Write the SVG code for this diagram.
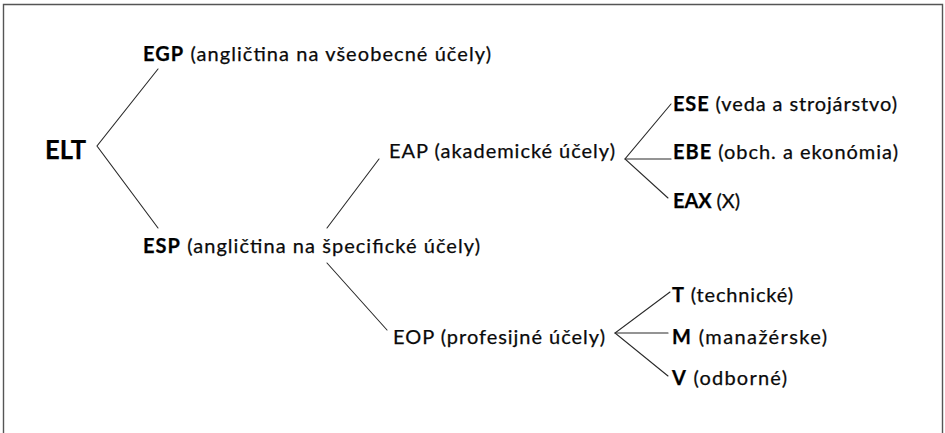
<svg xmlns="http://www.w3.org/2000/svg" width="945" height="433" viewBox="0 0 945 433">
  <style>
    text { font-family: Lato, "Open Sans", "Liberation Sans", sans-serif; font-size: 20px; fill: #0a0a0a; stroke: #0a0a0a; stroke-width: 0.25; }
    .b { font-weight: bold; fill: #000; }
    .root { font-size: 27px; font-weight: bold; fill: #000; }
    .edge { stroke: #2a2a2a; stroke-width: 1.1; fill: none; stroke-linecap: round; }
  </style>
  <rect width="945" height="433" fill="#fff"/>
  <!-- frame: top, left and right sides only -->
  <path d="M3.5 440 V4.5 H942.5 V440" fill="none" stroke="#555" stroke-width="1.4"/>

  <g id="connectors">
    <polyline class="edge" points="158,69 97,146 158,228"/>
    <polyline class="edge" points="379,159 327,228"/>
    <polyline class="edge" points="327,263 387,330"/>
    <polyline class="edge" points="671,104 625,159 668,198"/>
    <line class="edge" x1="625" y1="159" x2="671" y2="159"/>
    <polyline class="edge" points="670,292 615,333 668,376"/>
    <line class="edge" x1="615" y1="333" x2="668" y2="333"/>
  </g>

  <g id="elt"><text class="root" x="45" y="159" textLength="41" lengthAdjust="spacingAndGlyphs">ELT</text></g>
  <g id="egp"><text x="143" y="61" textLength="348"><tspan class="b">EGP</tspan> (angličtina na všeobecné účely)</text></g>
  <g id="esp"><text x="143" y="253" textLength="337"><tspan class="b">ESP</tspan> (angličtina na špecifické účely)</text></g>
  <g id="eap"><text x="389" y="158" textLength="226">EAP (akademické účely)</text></g>
  <g id="eop"><text x="393" y="344" textLength="212">EOP (profesijné účely)</text></g>
  <g id="ese"><text x="673" y="111" textLength="224"><tspan class="b">ESE</tspan> (veda a strojárstvo)</text></g>
  <g id="ebe"><text x="673" y="159" textLength="225"><tspan class="b">EBE</tspan> (obch. a ekonómia)</text></g>
  <g id="eax"><text x="673" y="208" textLength="67"><tspan class="b">EAX</tspan> (X)</text></g>
  <g id="t"><text x="672" y="302" textLength="121"><tspan class="b">T</tspan> (technické)</text></g>
  <g id="m"><text x="672" y="344" textLength="155"><tspan class="b">M</tspan> (manažérske)</text></g>
  <g id="v"><text x="672" y="385" textLength="115"><tspan class="b">V</tspan> (odborné)</text></g>
</svg>
